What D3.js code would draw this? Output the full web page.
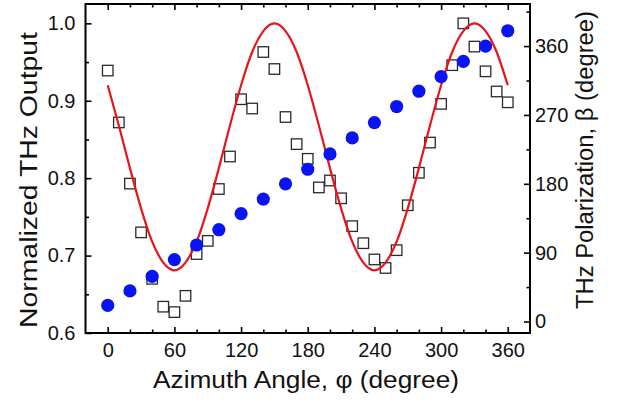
<!DOCTYPE html>
<html>
<head>
<meta charset="utf-8">
<script src="https://cdn.jsdelivr.net/npm/d3@7/dist/d3.min.js"></script>
<style>
  html, body { margin: 0; padding: 0; background: #fff; }
  svg { display: block; font-family: "Liberation Sans", Arial, sans-serif; }
</style>
</head>
<body>
<svg id="chart" width="620" height="405"></svg>
<script>
// Normalized THz output measured every 10 degrees of azimuth (open squares)
const phiOutput = [0, 10, 20, 30, 40, 50, 60, 70, 80, 90, 100, 110, 120, 130, 140, 150, 160, 170, 180,
                   190, 200, 210, 220, 230, 240, 250, 260, 270, 280, 290, 300, 310, 320, 330, 340, 350, 360];
const outputValues = [0.939, 0.872, 0.793, 0.730, 0.670, 0.634, 0.627, 0.648, 0.702, 0.719, 0.786, 0.828,
                      0.902, 0.890, 0.963, 0.941, 0.879, 0.844, 0.825, 0.788, 0.797, 0.774, 0.738, 0.716,
                      0.695, 0.684, 0.707, 0.765, 0.807, 0.846, 0.896, 0.946, 1.000, 0.970, 0.938, 0.912, 0.898];

// Fitted output curve (red line)
const phiFit = [0, 10, 20, 30, 40, 50, 60, 70, 80, 90, 100, 110, 120, 130, 140, 150, 160, 170, 180,
                190, 200, 210, 220, 230, 240, 250, 260, 270, 280, 290, 300, 310, 320, 330, 340, 350, 360];
const fitValues = [0.920, 0.868, 0.813, 0.761, 0.718, 0.691, 0.681, 0.691, 0.718, 0.761, 0.813, 0.868,
                   0.920, 0.963, 0.990, 1.000, 0.990, 0.963, 0.920, 0.868, 0.813, 0.761, 0.718, 0.691,
                   0.681, 0.691, 0.718, 0.761, 0.813, 0.868, 0.920, 0.963, 0.990, 1.000, 0.990, 0.963, 0.920];

// THz polarization angle beta every 20 degrees (filled blue circles, right axis)
const phiPolar = [0, 20, 40, 60, 80, 100, 120, 140, 160, 180, 200, 220, 240, 260, 280, 300, 320, 340, 360];
const betaValues = [21, 40, 59, 81, 100, 120, 141, 160, 180, 199, 219, 240, 260, 281, 301, 320, 340, 360, 380];

// Tick values
const xMajorTicks = [0, 60, 120, 180, 240, 300, 360];
const xMinorTicks = [20, 40, 80, 100, 140, 160, 200, 220, 260, 280, 320, 340];
const yLeftMajorTicks = [0.6, 0.7, 0.8, 0.9, 1.0];
const yLeftMinorTicks = [0.65, 0.75, 0.85, 0.95];
const yRightMajorTicks = [0, 90, 180, 270, 360];
const yRightMinorTicks = [45, 135, 225, 315, 405];

const xTitle = "Azimuth Angle, \u03C6 (degree)";
const yLeftTitle = "Normalized THz Output";
const yRightTitle = "THz Polarization, \u03B2 (degree)";

const frame = { left: 85.5, right: 530, top: 4, bottom: 333 };
const svg = d3.select("#chart");

const x = d3.scaleLinear().domain([-20, 380]).range([frame.left, frame.right]);
const yL = d3.scaleLinear().domain([0.6, 1.025]).range([frame.bottom, frame.top]);
const yR = d3.scaleLinear().domain([-15, 415]).range([frame.bottom, frame.top]);

const tickFont = 20;

function styleAxis(g) {
  g.select(".domain").remove();
  g.selectAll(".tick line").attr("stroke", "#000").attr("stroke-width", 1.6);
  g.selectAll(".tick text").attr("fill", "#111").style("font-size", tickFont + "px")
    .style("font-family", "'Liberation Sans', Arial, sans-serif");
}

// Bottom axis (ticks pointing inward)
svg.append("g").attr("transform", `translate(0,${frame.bottom})`)
  .call(d3.axisBottom(x).tickValues(xMajorTicks).tickSize(-6).tickPadding(10).tickFormat(d3.format("d")))
  .call(styleAxis);
svg.append("g").attr("transform", `translate(0,${frame.bottom})`)
  .call(d3.axisBottom(x).tickValues(xMinorTicks).tickSize(-3.5).tickFormat(""))
  .call(styleAxis);
// Top axis
svg.append("g").attr("transform", `translate(0,${frame.top})`)
  .call(d3.axisTop(x).tickValues(xMajorTicks).tickSize(-6).tickFormat(""))
  .call(styleAxis);
svg.append("g").attr("transform", `translate(0,${frame.top})`)
  .call(d3.axisTop(x).tickValues(xMinorTicks).tickSize(-3.5).tickFormat(""))
  .call(styleAxis);
// Left axis
svg.append("g").attr("transform", `translate(${frame.left},0)`)
  .call(d3.axisLeft(yL).tickValues(yLeftMajorTicks).tickSize(-6).tickPadding(10).tickFormat(d3.format(".1f")))
  .call(styleAxis);
svg.append("g").attr("transform", `translate(${frame.left},0)`)
  .call(d3.axisLeft(yL).tickValues(yLeftMinorTicks).tickSize(-3.5).tickFormat(""))
  .call(styleAxis);
// Right axis
svg.append("g").attr("transform", `translate(${frame.right},0)`)
  .call(d3.axisRight(yR).tickValues(yRightMajorTicks).tickSize(-6).tickPadding(5).tickFormat(d3.format("d")))
  .call(styleAxis);
svg.append("g").attr("transform", `translate(${frame.right},0)`)
  .call(d3.axisRight(yR).tickValues(yRightMinorTicks).tickSize(-3.5).tickFormat(""))
  .call(styleAxis);

// Plot frame
svg.append("rect")
  .attr("x", frame.left).attr("y", frame.top)
  .attr("width", frame.right - frame.left).attr("height", frame.bottom - frame.top)
  .attr("fill", "none").attr("stroke", "#000").attr("stroke-width", 2);

// Measured output: open squares
const sq = 10.5;
svg.append("g").selectAll("rect")
  .data(phiOutput.map((p, i) => [p, outputValues[i]]))
  .join("rect")
  .attr("x", d => x(d[0]) - sq / 2).attr("y", d => yL(d[1]) - sq / 2)
  .attr("width", sq).attr("height", sq)
  .attr("fill", "none").attr("stroke", "#2a2a2a").attr("stroke-width", 1.3);

// Fitted curve
const fitLine = d3.line().x(d => x(d[0])).y(d => yL(d[1])).curve(d3.curveNatural);
svg.append("path")
  .datum(phiFit.map((p, i) => [p, fitValues[i]]))
  .attr("d", fitLine)
  .attr("fill", "none").attr("stroke", "#e8141b").attr("stroke-width", 2.2);

// Polarization angle: filled circles
svg.append("g").selectAll("circle")
  .data(phiPolar.map((p, i) => [p, betaValues[i]]))
  .join("circle")
  .attr("cx", d => x(d[0])).attr("cy", d => yR(d[1]))
  .attr("r", 6.6).attr("fill", "#0a14f2");

// Axis titles
svg.append("text")
  .attr("x", 306).attr("y", 388)
  .attr("text-anchor", "middle")
  .attr("textLength", 306).attr("lengthAdjust", "spacingAndGlyphs")
  .style("font-size", "23px").attr("fill", "#111")
  .text(xTitle);

svg.append("text")
  .attr("transform", "translate(37,180) rotate(-90)")
  .attr("text-anchor", "middle")
  .attr("textLength", 296).attr("lengthAdjust", "spacingAndGlyphs")
  .style("font-size", "23px").attr("fill", "#111")
  .text(yLeftTitle);

svg.append("text")
  .attr("transform", "translate(593,160) rotate(-90)")
  .attr("text-anchor", "middle")
  .attr("textLength", 298).attr("lengthAdjust", "spacingAndGlyphs")
  .style("font-size", "23px").attr("fill", "#111")
  .text(yRightTitle);
</script>
</body>
</html>
